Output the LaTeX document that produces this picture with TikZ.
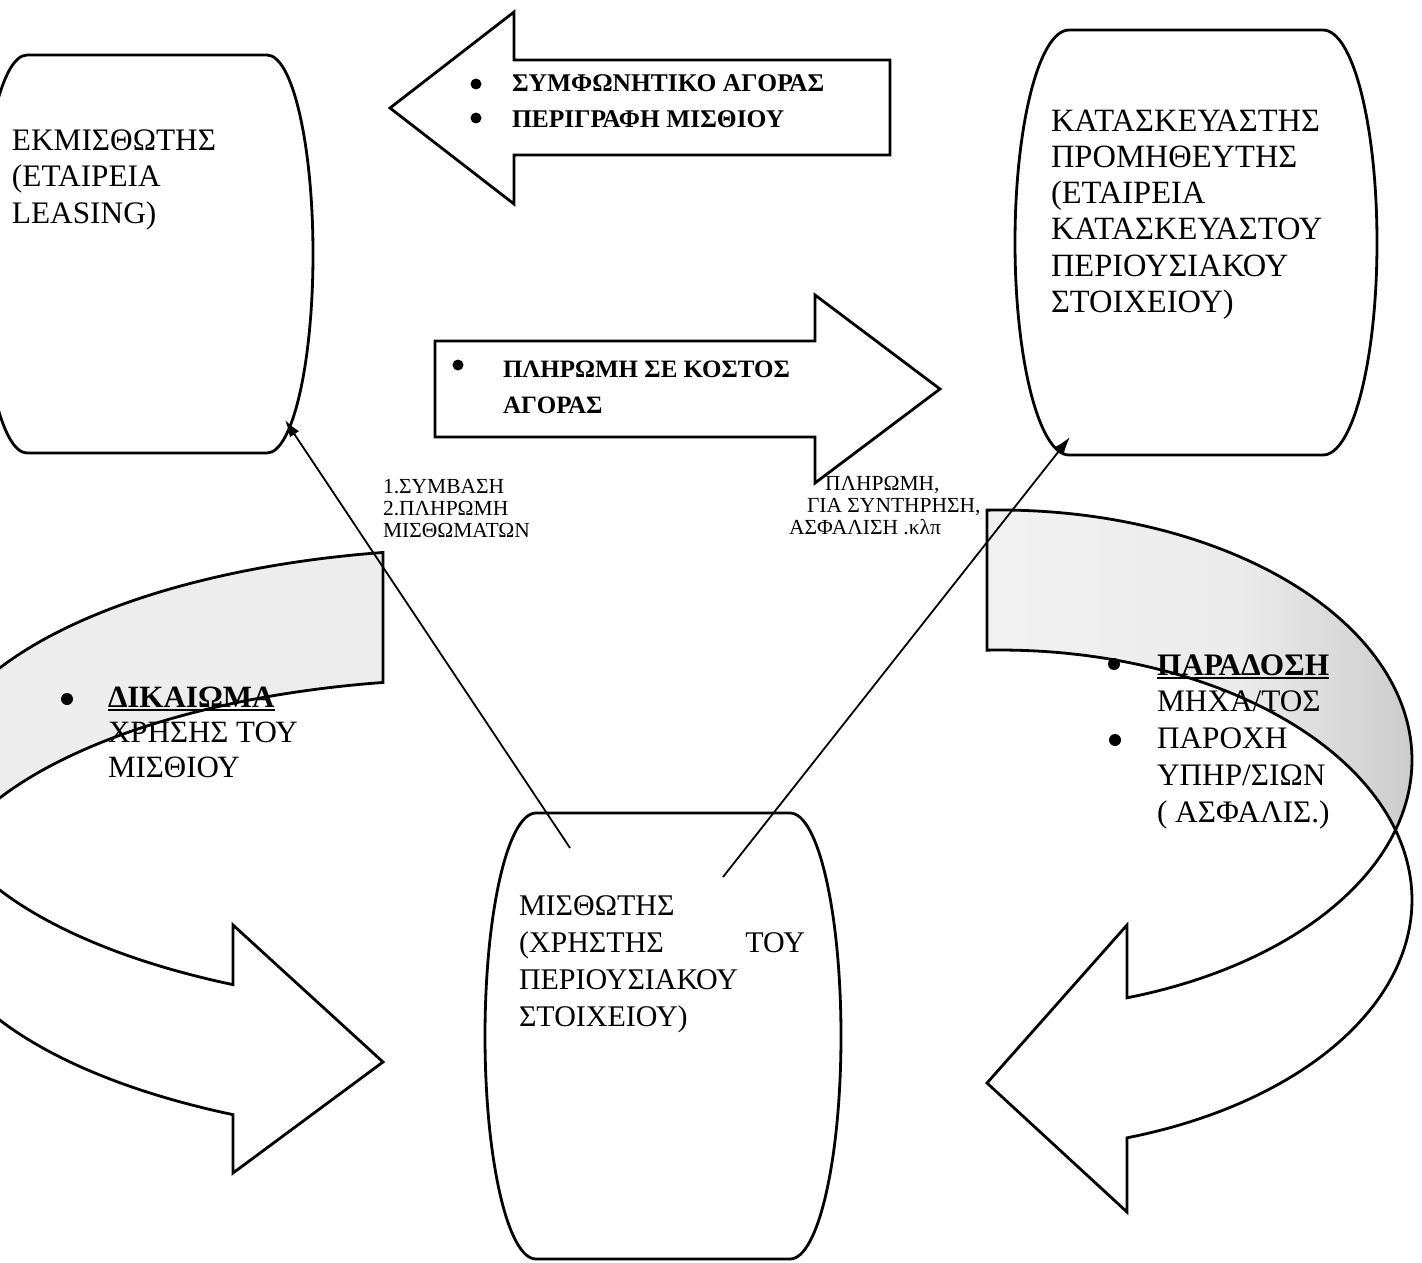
\documentclass[tikz,border=0pt]{standalone}
\usepackage{fontspec}
\setmainfont{Liberation Serif}
\usetikzlibrary{arrows.meta}
\pgfdeclarehorizontalshading{rstip}{100bp}{color(0bp)=(black!3); color(55bp)=(black!8); color(85bp)=(black!26); color(100bp)=(black!42)}
\newcommand\vlines[1]{\vtop{\let\\\cr\halign{##\hfil\cr#1\crcr}}}
\newcommand\ulb[1]{\vtop{\hbox{#1}\kern1.5pt\hrule height 2pt}}
\begin{document}
\begin{tikzpicture}[x=1pt,y=-1pt,
  outline/.style={line width=2.8pt, line join=miter},
  conn/.style={line width=1.8pt, -{Latex[length=17pt,width=11pt]}},
  txt/.style={anchor=base west, inner sep=0pt, outer sep=0pt},
  big/.style={font=\fontsize{31.3}{36.5}\selectfont},
  mid/.style={font=\fontsize{25.5}{36}\selectfont\bfseries},
  small/.style={font=\fontsize{21.5}{22}\selectfont},
  bul/.style={circle, fill, inner sep=0pt, minimum size=#1},
  bul/.default=11pt]
\useasboundingbox (0,0) rectangle (1422,1263);
\clip (0,0) rectangle (1422,1263);

% ---- left curved arrow (back face stipple) ----
\fill[black!7] plot[domain=260.07:180, samples=60] ({477+545*cos(\x)},{779+230*sin(\x)})
  -- plot[domain=180:260.07, samples=60] ({477+545*cos(\x)},{909+230*sin(\x)}) -- cycle;
\draw[outline] plot[domain=260.07:116.6, samples=120] ({477+545*cos(\x)},{779+230*sin(\x)})
  -- (233,925) -- (383,1062) -- (233,1173)
  -- plot[domain=116.6:260.07, samples=120] ({477+545*cos(\x)},{909+230*sin(\x)}) -- cycle;

% ---- right curved arrow ----
\shade[shading=rstip] plot[domain=-91.81:16.26, samples=80] ({1000+412*cos(\x)},{760+250*sin(\x)})
  -- plot[domain=-16.26:-91.81, samples=80] ({1000+412*cos(\x)},{900+250*sin(\x)}) -- cycle;
\draw[outline] plot[domain=-91.81:72.05, samples=120] ({1000+412*cos(\x)},{760+250*sin(\x)})
  -- (1127,925) -- (987,1083) -- (1127,1212)
  -- plot[domain=72.05:-91.81, samples=120] ({1000+412*cos(\x)},{900+250*sin(\x)}) -- cycle;

% ---- block arrows ----
\draw[outline] (890,60) -- (514,60) -- (514,12) -- (390,108) -- (514,204) -- (514,155) -- (890,155) -- cycle;
\draw[outline] (435,341) -- (815,341) -- (815,295) -- (940,389) -- (815,483) -- (815,437) -- (435,437) -- cycle;

% ---- barrel boxes ----
\draw[outline] (27,55) -- (267,55) .. controls (292.4,55) and (313,144.2) .. (313,254)
  .. controls (313,363.8) and (292.4,453) .. (267,453) -- (27,453)
  .. controls (1.6,453) and (-19,363.8) .. (-19,254) .. controls (-19,144.2) and (1.6,55) .. cycle;
\draw[outline] (1069,30) -- (1323,30) .. controls (1352.8,30) and (1377,125.2) .. (1377,242.5)
  .. controls (1377,359.8) and (1352.8,455) .. (1323,455) -- (1069,455)
  .. controls (1039.2,455) and (1015,359.8) .. (1015,242.5) .. controls (1015,125.2) and (1039.2,30) .. cycle;
\draw[outline] (536,813) -- (790,813) .. controls (818.2,813) and (841,912.9) .. (841,1036)
  .. controls (841,1159.1) and (818.2,1259) .. (790,1259) -- (536,1259)
  .. controls (507.8,1259) and (485,1159.1) .. (485,1036) .. controls (485,912.9) and (507.8,813) .. cycle;

% ---- connectors ----
\coordinate (lesseeA) at (570,848);
\coordinate (lessorIn) at (285,420);
\coordinate (lesseeB) at (723,877);
\coordinate (supplierIn) at (1070,437);
\draw[conn] (lesseeA) -- (lessorIn);
\draw[conn] (lesseeB) -- (supplierIn);

% ---- texts ----
\node[txt, big] (lessor) at (12,150) {\vlines{ΕΚΜΙΣΘΩΤΗΣ\\(ΕΤΑΙΡΕΙΑ\\LEASING)}};
\node[txt, font=\fontsize{32.5}{36.3}\selectfont] (supplier) at (1051,131)
  {\vlines{ΚΑΤΑΣΚΕΥΑΣΤΗΣ\\ΠΡΟΜΗΘΕΥΤΗΣ\\(ΕΤΑΙΡΕΙΑ\\ΚΑΤΑΣΚΕΥΑΣΤΟΥ\\ΠΕΡΙΟΥΣΙΑΚΟΥ\\ΣΤΟΙΧΕΙΟΥ)}};
\node[txt, font=\fontsize{30}{37}\selectfont] (lessee) at (519,915)
  {\vlines{ΜΙΣΘΩΤΗΣ\\\hbox to 286pt{(ΧΡΗΣΤΗΣ\hfil ΤΟΥ}\\ΠΕΡΙΟΥΣΙΑΚΟΥ\\ΣΤΟΙΧΕΙΟΥ)}};

\node[bul] (bt1) at (476,84) {};
\node[bul] (bt2) at (476,118) {};
\node[txt, mid] (toptext) at (512,92) {\vlines{ΣΥΜΦΩΝΗΤΙΚΟ ΑΓΟΡΑΣ\\ΠΕΡΙΓΡΑΦΗ ΜΙΣΘΙΟΥ}};

\node[bul] (bm1) at (458,365) {};
\node[txt, font=\fontsize{25}{36}\selectfont\bfseries] (midtext) at (503,377) {\vlines{ΠΛΗΡΩΜΗ ΣΕ ΚΟΣΤΟΣ\\ΑΓΟΡΑΣ}};

\node[txt, small] (lab1) at (383,493) {\vlines{1.ΣΥΜΒΑΣΗ\\2.ΠΛΗΡΩΜΗ\\ΜΙΣΘΩΜΑΤΩΝ}};
\node[txt, small] (lab2) at (789,490) {\vlines{\hskip36pt ΠΛΗΡΩΜΗ,\\\hskip18pt ΓΙΑ ΣΥΝΤΗΡΗΣΗ,\\ΑΣΦΑΛΙΣΗ .κλπ}};

\node[bul=12pt] (bl1) at (67,699) {};
\node[txt, font=\fontsize{31}{35}\selectfont] (lefttext) at (108,707)
  {\vlines{\ulb{\bfseries ΔΙΚΑΙΩΜΑ}\\ΧΡΗΣΗΣ ΤΟΥ\\ΜΙΣΘΙΟΥ}};

\node[bul=12pt] (br1) at (1114,664) {};
\node[bul=12pt] (br2) at (1115,740) {};
\node[txt, font=\fontsize{31.3}{36.8}\selectfont] (righttext) at (1157,675)
  {\vlines{\ulb{\bfseries ΠΑΡΑΔΟΣΗ}\\ΜΗΧΑ/ΤΟΣ\\ΠΑΡΟΧΗ\\ΥΠΗΡ/ΣΙΩΝ\\( ΑΣΦΑΛΙΣ.)}};
\end{tikzpicture}
\end{document}
